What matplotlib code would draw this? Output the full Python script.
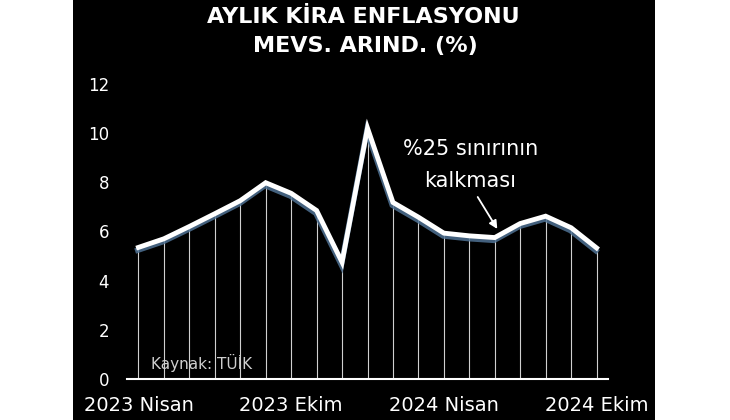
import matplotlib.pyplot as plt
import matplotlib.patheffects as pe
from matplotlib.patches import Rectangle

# aylik kira enflasyonu, mevsimsellikten arindirilmis (%)
months = ['2023-04', '2023-05', '2023-06', '2023-07', '2023-08', '2023-09',
          '2023-10', '2023-11', '2023-12', '2024-01', '2024-02', '2024-03',
          '2024-04', '2024-05', '2024-06', '2024-07', '2024-08', '2024-09',
          '2024-10']
values = [5.35, 5.70, 6.20, 6.72, 7.25, 7.98, 7.55, 6.85, 4.75, 10.2,
          7.18, 6.58, 5.93, 5.82, 5.75, 6.32, 6.62, 6.15, 5.33]
tick_idx = [0, 6, 12, 18]
tick_labels = ['2023 Nisan', '2023 Ekim', '2024 Nisan', '2024 Ekim']
y_ticks = [0, 2, 4, 6, 8, 10, 12]

fig = plt.figure(figsize=(7.3, 4.2), dpi=100)
fig.patch.set_facecolor('white')
fig.patches.append(Rectangle((73 / 730, 0), (655 - 73) / 730, 1,
                             transform=fig.transFigure, facecolor='black',
                             edgecolor='none', zorder=-5))

ax = fig.add_axes([127 / 730, 41 / 420, (608 - 127) / 730, (379 - 74) / 420])
ax.set_facecolor('none')
x = list(range(len(values)))

ax.vlines(x, 0, values, color='#d0d0d0', lw=0.8, zorder=2)
ax.plot(x, values, color='white', lw=3.5, solid_joinstyle='miter', zorder=3,
        path_effects=[pe.SimpleLineShadow(offset=(-0.5, -2), shadow_color='#4f7294',
                                          alpha=0.85, linewidth=4),
                      pe.Normal()])

ax.set_xlim(-0.45, len(values) - 0.55)
ax.set_ylim(0, 12.4)
for s in ['top', 'right', 'left']:
    ax.spines[s].set_visible(False)
ax.spines['bottom'].set_color('white')
ax.spines['bottom'].set_linewidth(1.5)

ax.set_yticks(y_ticks)
ax.set_yticklabels([str(v) for v in y_ticks])
ax.set_xticks(tick_idx)
ax.set_xticklabels(tick_labels)
ax.tick_params(axis='y', length=0, pad=13, labelsize=12, labelcolor='white')
ax.tick_params(axis='x', length=0, pad=12, labelsize=14, labelcolor='white')
for lab in ax.get_xticklabels():
    lab.set_fontweight('medium')

fig.text(0.498, 0.96, 'AYLIK KİRA ENFLASYONU', ha='center', va='center',
         color='white', fontsize=16, fontweight='bold')
fig.text(0.5, 0.89, 'MEVS. ARIND. (%)', ha='center', va='center',
         color='white', fontsize=16, fontweight='bold')

ax.text(0.5, 0.65, 'Kaynak: TÜİK', color='#cfcfcf', fontsize=11, va='center')

ax.text(13.05, 8.72, '%25 sınırının\nkalkması', ha='center', va='center',
        color='white', fontsize=15, linespacing=1.75)
ax.annotate('', xy=(14.1, 6.1), xytext=(13.33, 7.4),
            arrowprops=dict(arrowstyle='-|>', color='white', lw=1.3,
                            shrinkA=0, shrinkB=0, mutation_scale=12))

fig.savefig('out.png', dpi=100, facecolor=fig.get_facecolor())
